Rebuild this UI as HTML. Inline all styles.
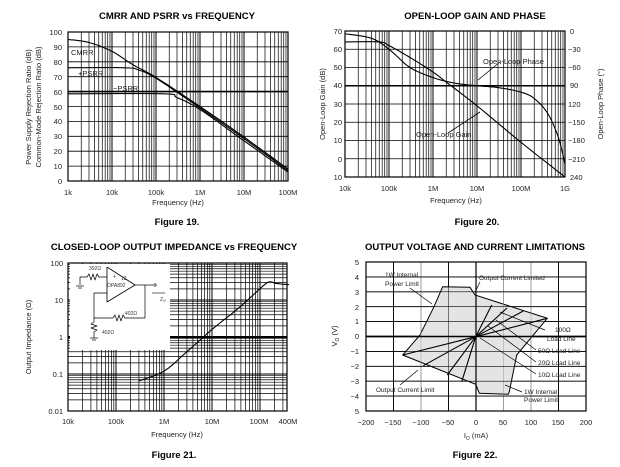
<!DOCTYPE html>
<html><head><meta charset="utf-8"><style>
html,body{margin:0;padding:0;background:#fff;}
svg{display:block;font-family:"Liberation Sans",Arial,sans-serif;}
.t{font-size:9.5px;font-weight:bold;text-anchor:middle}
.f{font-size:9.5px;font-weight:bold;text-anchor:middle}
.k{font-size:7.5px;fill:#222}
.m{text-anchor:middle}
.e{text-anchor:end}
</style></head><body>
<svg id="s" width="620" height="467" viewBox="0 0 620 467" xmlns="http://www.w3.org/2000/svg">
<g id="g"></g>
<!-- Chart 1 texts -->
<text class="t" x="177" y="19">CMRR AND PSRR vs FREQUENCY</text>
<g class="k e">
<text x="62" y="35" text-anchor="end">100</text><text x="62" y="50" text-anchor="end">90</text><text x="62" y="65" text-anchor="end">80</text><text x="62" y="80" text-anchor="end">70</text><text x="62" y="95" text-anchor="end">60</text><text x="62" y="110" text-anchor="end">50</text><text x="62" y="124" text-anchor="end">40</text><text x="62" y="139" text-anchor="end">30</text><text x="62" y="154" text-anchor="end">20</text><text x="62" y="169" text-anchor="end">10</text><text x="62" y="184" text-anchor="end">0</text>
</g>
<g class="k" text-anchor="middle">
<text x="68" y="195">1k</text><text x="112" y="195">10k</text><text x="156" y="195">100k</text><text x="200" y="195">1M</text><text x="244" y="195">10M</text><text x="288" y="195">100M</text>
<text x="178" y="205">Frequency (Hz)</text>
</g>
<text class="k" transform="translate(31,107) rotate(-90)" text-anchor="middle">Power Supply Rejection Ratio (dB)</text>
<text class="k" transform="translate(41,107) rotate(-90)" text-anchor="middle">Common-Mode Rejection Ratio (dB)</text>
<text class="k" x="71" y="55" style="font-size:7.5px">CMRR</text>
<text class="k" x="78" y="76">+PSRR</text>
<text class="k" x="113" y="91">−PSRR</text>
<text class="f" x="177" y="225">Figure 19.</text>

<!-- Chart 2 texts -->
<text class="t" x="475" y="19">OPEN-LOOP GAIN AND PHASE</text>
<g class="k">
<text x="342" y="34" text-anchor="end">70</text><text x="342" y="52" text-anchor="end">60</text><text x="342" y="70" text-anchor="end">50</text><text x="342" y="88" text-anchor="end">40</text><text x="342" y="107" text-anchor="end">30</text><text x="342" y="125" text-anchor="end">20</text><text x="342" y="143" text-anchor="end">10</text><text x="342" y="162" text-anchor="end">0</text><text x="342" y="180" text-anchor="end">10</text>
<text x="570" y="34">0</text><text x="568" y="52">−30</text><text x="568" y="70">−60</text><text x="570" y="88">90</text><text x="568" y="107">120</text><text x="568" y="125">−150</text><text x="568" y="143">−180</text><text x="568" y="162">−210</text><text x="570" y="180">240</text>
<text x="345" y="191" text-anchor="middle">10k</text><text x="389" y="191" text-anchor="middle">100k</text><text x="433" y="191" text-anchor="middle">1M</text><text x="477" y="191" text-anchor="middle">10M</text><text x="521" y="191" text-anchor="middle">100M</text><text x="565" y="191" text-anchor="middle">1G</text>
<text x="456" y="203" text-anchor="middle">Frequency (Hz)</text>
<text x="483" y="64">Open-Loop Phase</text>
<text x="416" y="137">Open-Loop Gain</text>
</g>
<text class="k" transform="translate(325,104) rotate(-90)" text-anchor="middle">Open-Loop Gain (dB)</text>
<text class="k" transform="translate(603,104) rotate(-90)" text-anchor="middle">Open-Loop Phase (°)</text>
<text class="f" x="477" y="225">Figure 20.</text>

<!-- Chart 3 texts -->
<text class="t" x="174" y="250">CLOSED-LOOP OUTPUT IMPEDANCE vs FREQUENCY</text>
<g class="k">
<text x="63" y="266" text-anchor="end">100</text><text x="63" y="303" text-anchor="end">10</text><text x="63" y="340" text-anchor="end">1</text><text x="63" y="377" text-anchor="end">0.1</text><text x="63" y="414" text-anchor="end">0.01</text>
<text x="68" y="424" text-anchor="middle">10k</text><text x="116" y="424" text-anchor="middle">100k</text><text x="164" y="424" text-anchor="middle">1M</text><text x="212" y="424" text-anchor="middle">10M</text><text x="259" y="424" text-anchor="middle">100M</text><text x="288" y="424" text-anchor="middle">400M</text>
<text x="177" y="437" text-anchor="middle">Frequency (Hz)</text>
</g>
<text class="k" transform="translate(31,337) rotate(-90)" text-anchor="middle">Output Impedance (Ω)</text>
<text class="f" x="174" y="458">Figure 21.</text>

<!-- Chart 4 texts -->
<text class="t" x="475" y="250">OUTPUT VOLTAGE AND CURRENT LIMITATIONS</text>
<g class="k">
<text x="359" y="265" text-anchor="end">5</text><text x="359" y="280" text-anchor="end">4</text><text x="359" y="295" text-anchor="end">3</text><text x="359" y="310" text-anchor="end">2</text><text x="359" y="324" text-anchor="end">1</text><text x="359" y="339" text-anchor="end">0</text><text x="359" y="354" text-anchor="end">−1</text><text x="359" y="369" text-anchor="end">−2</text><text x="359" y="384" text-anchor="end">−3</text><text x="359" y="399" text-anchor="end">−4</text><text x="359" y="414" text-anchor="end">5</text>
<text x="366" y="425" text-anchor="middle">−200</text><text x="393" y="425" text-anchor="middle">−150</text><text x="421" y="425" text-anchor="middle">−100</text><text x="448" y="425" text-anchor="middle">−50</text><text x="476" y="425" text-anchor="middle">0</text><text x="503" y="425" text-anchor="middle">50</text><text x="531" y="425" text-anchor="middle">100</text><text x="558" y="425" text-anchor="middle">150</text><text x="586" y="425" text-anchor="middle">200</text>
<text x="476" y="438" text-anchor="middle">I<tspan font-size="5" dy="2">O</tspan><tspan dy="-2"> (mA)</tspan></text>
<text x="385" y="277" style="font-size:6.5px">1W Internal</text><text x="385" y="286" style="font-size:6.5px">Power Limit</text>
<text x="479" y="280" style="font-size:6.5px">Output Current Limited</text>
<text x="555" y="332" style="font-size:6.5px">100Ω</text><text x="547" y="341" style="font-size:6.5px">Load Line</text>
<text x="538" y="353" style="font-size:6.5px">50Ω Load Line</text>
<text x="538" y="365" style="font-size:6.5px">20Ω Load Line</text>
<text x="538" y="377" style="font-size:6.5px">10Ω Load Line</text>
<text x="376" y="392" style="font-size:6.5px">Output Current Limit</text>
<text x="524" y="394" style="font-size:6.5px">1W Internal</text><text x="524" y="402" style="font-size:6.5px">Power Limit</text>
</g>
<text class="k" transform="translate(337,336) rotate(-90)" text-anchor="middle">V<tspan font-size="5" dy="2">O</tspan><tspan dy="-2"> (V)</tspan></text>
<text class="f" x="475" y="458">Figure 22.</text>

<!-- inset schematic texts -->
<g style="font-size:5px" fill="#333">
<text x="89" y="270">392Ω</text><text x="113" y="278">+</text><text x="121" y="280">12</text><text x="107" y="287">OPA892</text>
<text x="125" y="315">402Ω</text><text x="102" y="334">402Ω</text><text x="160" y="301">Z<tspan font-size="3.5" dy="1">O</tspan></text>
</g>
</svg>
<script>
var NS="http://www.w3.org/2000/svg",g=document.getElementById("g");
function el(n,a){var e=document.createElementNS(NS,n);for(var k in a)e.setAttribute(k,a[k]);g.appendChild(e);return e;}
function L(x1,y1,x2,y2,w,c){el("line",{x1:x1,y1:y1,x2:x2,y2:y2,stroke:c||"#000","stroke-width":w||0.8});}
function P(pts,w,fill){el("polyline",{points:pts.map(function(p){return p[0].toFixed(1)+","+p[1].toFixed(1)}).join(" "),fill:fill||"none",stroke:"#000","stroke-width":w||1.1,"stroke-linejoin":"round"});}
function logV(x0,dec,pd,y0,y1,maxx){for(var d=0;d<dec;d++)for(var m=1;m<10;m++){var x=x0+pd*(d+Math.log10(m));if(x<=maxx+0.1)L(x,y0,x,y1,m==1?1:0.7);}}
function smooth(pts){ // catmull-rom sample
 var o=[];for(var i=0;i<pts.length-1;i++){var p0=pts[Math.max(i-1,0)],p1=pts[i],p2=pts[i+1],p3=pts[Math.min(i+2,pts.length-1)];
 for(var t=0;t<1;t+=0.1){var t2=t*t,t3=t2*t;o.push([0,1].map(function(j){return 0.5*((2*p1[j])+(-p0[j]+p2[j])*t+(2*p0[j]-5*p1[j]+4*p2[j]-p3[j])*t2+(-p0[j]+3*p1[j]-3*p2[j]+p3[j])*t3)}));}}
 o.push(pts[pts.length-1]);return o;}
// Chart 1
(function(){var x0=68,x1=288,y0=32,y1=181;
 logV(x0,5,44,y0,y1,x1);L(x1,y0,x1,y1,1);
 for(var i=0;i<=10;i++){var y=y1-i*14.9;L(x0,y,x1,y,i==6?1.6:0.8);}
 el("rect",{x:x0,y:y0,width:x1-x0,height:y1-y0,fill:"none",stroke:"#000","stroke-width":1.2});
 function m(a){return a.map(function(p){return [x0+44*Math.log10(p[0]/1e3),y1-1.49*p[1]]});}
 P(smooth(m([[1e3,95],[3e3,93],[1e4,87],[3e4,78],[1e5,69.5],[1e6,50],[1e7,29.5],[1e8,8]])));
 P(smooth(m([[1e3,76],[2e4,76],[4e4,74.5],[1e5,69],[1e6,49],[1e7,28.5],[1e8,7]])));
 P(smooth(m([[1e3,58.5],[1.5e5,58.5],[3e5,56],[1e6,48],[1e7,27],[1e8,6]])));
})();
// Chart 2
(function(){var x0=345,x1=565,y0=31,y1=177,h=(y1-y0)/8;
 logV(x0,5,44,y0,y1,x1);L(x1,y0,x1,y1,1);
 for(var i=0;i<=8;i++){var y=y0+i*h;L(x0,y,x1,y,i==3?1.6:0.8);}
 el("rect",{x:x0,y:y0,width:x1-x0,height:y1-y0,fill:"none",stroke:"#000","stroke-width":1.2});
 function m(a){return a.map(function(p){return [x0+44*Math.log10(p[0]/1e4),y0+(70-p[1])*h/10]});}
 P(smooth(m([[1e4,64],[6e4,64],[1e5,62],[3e5,55.5],[1e6,47.5],[2e6,42],[1e7,29],[1e8,9],[1e9,-10]])));
 P(smooth(m([[1e4,68.5],[4e4,66],[1e5,60],[3e5,50],[1e6,44.5],[3e6,41.5],[1e7,40],[3e7,39],[1e8,36.5],[2e8,33],[4e8,25],[7e8,12],[1e9,-3]])));
 L(500,62,478,80,0.8);L(448,133,480,112,0.8);
})();
// Chart 3
(function(){var x0=68,x1=287,y0=263,y1=411,pd=48;
 logV(x0,5,pd,y0,y1,x1);L(x1,y0,x1,y1,1);
 for(var d=0;d<4;d++)for(var mm=1;mm<10;mm++){var y=y1-37*(d+Math.log10(mm));L(x0,y,x1,y,mm==1?(d==2?2:1):0.7);}
 el("rect",{x:x0,y:y0,width:x1-x0,height:y1-y0,fill:"none",stroke:"#000","stroke-width":1.2});
 el("rect",{x:70,y:264,width:100,height:86,fill:"#fff"});
 function m(a){return a.map(function(p){return [x0+pd*Math.log10(p[0]/1e4),y1-37*(Math.log10(p[1])+2)]});}
 P(smooth(m([[3e5,0.065],[1e6,0.12],[3e6,0.4],[1e7,1.6],[3e7,5],[6e7,11],[1.2e8,25],[1.6e8,31],[2.2e8,28],[4e8,26]])));
 // schematic
 var s="#000";
 P([[107,267],[107,302],[135,285],[107,267]],0.8);
 P([[80,285],[80,277],[87,277]],0.7);P([[87,277],[89,274],[91,280],[93,274],[95,280],[97,274],[99,277],[107,277]],0.7);
 L(76,286,84,286,0.7);L(78,288,82,288,0.7);
 P([[135,285],[148,285]],0.7);el("circle",{cx:155,cy:285,r:1.2,fill:"none",stroke:s,"stroke-width":0.6});L(148,285,153,285,0.7);
 P([[107,293],[94,293],[94,318],[113,318]],0.7);P([[113,318],[115,315],[117,321],[119,315],[121,321],[123,315],[125,318],[145,318],[145,285]],0.7);
 P([[94,318],[94,322],[91,324],[97,326],[91,328],[97,330],[94,332],[94,338]],0.7);L(90,338,98,338,0.7);L(92,340,96,340,0.7);
 L(152,293,165,293,0.6);
})();
// Chart 4
(function(){var x0=366,x1=586,y0=262,y1=411;
 function X(a){return 476+a*0.55} function Y(v){return 336.5-v*14.9}
 for(var a=-150;a<=150;a+=50)L(X(a),y0,X(a),y1,0.9,(a==-100||a==50||a==100)?"#999":"#000");
 for(var v=-4;v<=4;v++)L(x0,Y(v),x1,Y(v),v==0?1.4:0.9);
 el("polygon",{points:"442.7,286.7 470,287.3 475,295 547.3,318.3 516.7,355 509.3,391.7 508.3,394.3 479.3,393.3 475.7,384.3 402.7,355 420,335 434,306.7",fill:"#e4e4e4",stroke:"#000","stroke-width":1});
 for(var a=-150;a<=150;a+=50)L(X(a),y0,X(a),y1,0.5,(a==-100||a==50||a==100)?"#999":"#000");
 for(var v=-4;v<=4;v++)L(x0,Y(v),x1,Y(v),v==0?1.4:0.6);
 L(476,y0,476,y1,1.2);
 var o=[475.7,336.7];[[491.7,305],[507,308],[523.3,311],[547.3,318.3],[461.7,381.7],[447.3,375],[423.3,365.7],[402.7,355]].forEach(function(p){L(o[0],o[1],p[0],p[1],1.1)});
 el("rect",{x:x0,y:y0,width:x1-x0,height:y1-y0,fill:"none",stroke:"#000","stroke-width":1.2});
 L(410,288,432,304,0.7);L(480,282,475,292,0.7);L(545,330,500,312,0.7);L(536,350,496,320,0.7);L(536,362,488,326,0.7);L(536,374,480,338,0.7);L(400,385,418,370,0.7);L(522,392,505,385,0.7);
})();
</script>
</body></html>
